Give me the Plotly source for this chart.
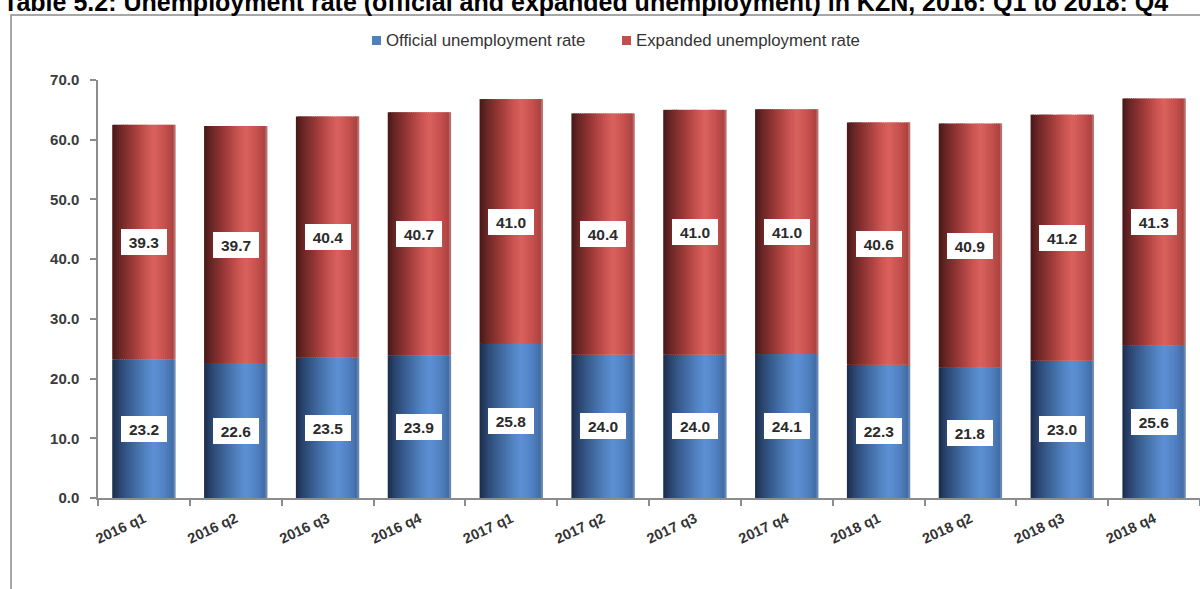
import plotly.graph_objects as go

# Quarterly unemployment rates, KZN
quarters = ["2016 q1", "2016 q2", "2016 q3", "2016 q4",
            "2017 q1", "2017 q2", "2017 q3", "2017 q4",
            "2018 q1", "2018 q2", "2018 q3", "2018 q4"]
official_rate = [23.2, 22.6, 23.5, 23.9, 25.8, 24.0, 24.0, 24.1, 22.3, 21.8, 23.0, 25.6]
expanded_rate = [39.3, 39.7, 40.4, 40.7, 41.0, 40.4, 41.0, 41.0, 40.6, 40.9, 41.2, 41.3]

series_names = ["Official unemployment rate", "Expanded unemployment rate"]
legend_colors = ["#4f81bd", "#c0504d"]
y_ticks = [0, 10, 20, 30, 40, 50, 60, 70]

W, H = 1200, 589
ML, MR, MT, MB = 98, 0, 80, 91
PW, PH = W - ML - MR, H - MT - MB


def px_x(px):
    return (px - ML) / PW


def px_y(py):
    return (H - MB - py) / PH


# horizontal "cylinder" shading stops: (position across bar, colour)
blue_stops = [(0.0, (28, 45, 72)), (0.12, (42, 70, 112)), (0.32, (62, 102, 155)),
              (0.55, (84, 133, 196)), (0.66, (93, 144, 212)), (0.84, (80, 128, 192)),
              (0.97, (64, 106, 163)), (1.0, (150, 170, 200))]
red_stops = [(0.0, (72, 24, 24)), (0.12, (108, 38, 38)), (0.32, (155, 57, 56)),
             (0.55, (204, 86, 83)), (0.66, (218, 97, 94)), (0.84, (196, 80, 77)),
             (0.97, (168, 66, 64)), (1.0, (205, 160, 160))]


def shade(stops, t):
    for (p0, c0), (p1, c1) in zip(stops[:-1], stops[1:]):
        if p0 <= t <= p1:
            f = (t - p0) / (p1 - p0) if p1 > p0 else 0
            r, g, b = (round(a + (b_ - a) * f) for a, b_ in zip(c0, c1))
            return f"rgb({r},{g},{b})"
    r, g, b = stops[-1][1]
    return f"rgb({r},{g},{b})"


BAR_W = 0.69
N_STRIPS = 30
strip_w = BAR_W / N_STRIPS

fig = go.Figure()

for name, values, base, stops in [
    (series_names[0], official_rate, None, blue_stops),
    (series_names[1], expanded_rate, official_rate, red_stops),
]:
    for i in range(N_STRIPS):
        t = (i + 0.5) / N_STRIPS
        w = strip_w * (1.6 if i < N_STRIPS - 1 else 1.0)
        fig.add_trace(go.Bar(
            x=quarters, y=values, base=base,
            width=w, offset=-BAR_W / 2 + i * strip_w,
            marker=dict(color=shade(stops, t), line=dict(width=0)),
            name=name, showlegend=False, hoverinfo="skip",
        ))

# value labels in white boxes, centred in each segment
annotations = []
for q, off, exp in zip(quarters, official_rate, expanded_rate):
    for val, mid in [(off, off / 2), (exp, off + exp / 2)]:
        annotations.append(dict(
            x=q, y=mid, xref="x", yref="y", text=f"{val:.1f}", showarrow=False,
            font=dict(family="Liberation Sans, Arial", size=15.5, color="#2b2b2b", weight="bold"),
            bgcolor="white", width=44, height=24, borderwidth=0,
        ))

# legend
shapes = []
legend_x = [372, 622]
for name, col, lx in zip(series_names, legend_colors, legend_x):
    shapes.append(dict(type="rect", xref="paper", yref="paper",
                       x0=px_x(lx), x1=px_x(lx + 9), y0=px_y(45), y1=px_y(36),
                       fillcolor=col, line=dict(width=0)))
    annotations.append(dict(
        x=px_x(lx + 12), y=px_y(40.5), xref="paper", yref="paper", xanchor="left", yanchor="middle",
        text=name, showarrow=False,
        font=dict(family="Liberation Sans, Arial", size=16.8, color="#333333"),
    ))

# outer frame
shapes.append(dict(type="rect", xref="paper", yref="paper",
                   x0=px_x(11), x1=px_x(1260), y0=px_y(640), y1=px_y(15),
                   line=dict(color="#8a8a8a", width=1.5), fillcolor="rgba(0,0,0,0)", layer="below"))

# heading above the frame
annotations.append(dict(
    x=px_x(1), y=px_y(1.5), xref="paper", yref="paper", xanchor="left", yanchor="middle",
    text="Table 5.2: Unemployment rate (official and expanded unemployment) in KZN, 2016: Q1 to 2018: Q4",
    showarrow=False,
    font=dict(family="Liberation Sans, Arial", size=25, color="black", weight="bold"),
))

fig.update_layout(
    width=W, height=H,
    margin=dict(l=ML, r=MR, t=MT, b=MB, autoexpand=False),
    paper_bgcolor="white", plot_bgcolor="white",
    barmode="overlay", showlegend=False,
    annotations=annotations, shapes=shapes,
    xaxis=dict(
        type="category", range=[-0.5, 11.5], tickson="boundaries",
        showline=True, linecolor="#8c8c8c", linewidth=1.5,
        ticks="outside", ticklen=6, tickcolor="#8c8c8c", tickwidth=1.5,
        tickangle=-25, showgrid=False, zeroline=False, ticklabelstandoff=5,
        tickfont=dict(family="Liberation Sans, Arial", size=14.5, color="#333333", weight="bold"),
        automargin=False,
    ),
    yaxis=dict(
        range=[0, 70], tickvals=y_ticks, ticktext=[f"{v:.1f}" for v in y_ticks],
        showline=True, linecolor="#8c8c8c", linewidth=1.5,
        ticks="outside", ticklen=6, tickcolor="#8c8c8c", tickwidth=1.5,
        showgrid=False, zeroline=False, ticklabelstandoff=8,
        tickfont=dict(family="Liberation Sans, Arial", size=15, color="#3a3a3a", weight="bold"),
        automargin=False,
    ),
)

fig.write_html("out.html")
